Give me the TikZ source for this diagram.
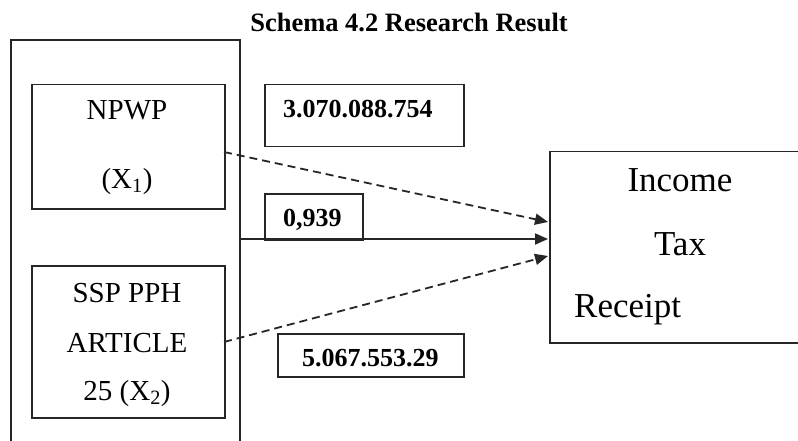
\documentclass[tikz,border=0pt]{standalone}
\usepackage{fontspec}
\setmainfont{Liberation Serif}
\usetikzlibrary{arrows.meta}
\begin{document}
\begin{tikzpicture}[x=1pt,y=-1pt,
  frame/.style={draw=black!85, line width=1.5pt, inner sep=0pt, anchor=north west},
  lbl/.style={anchor=base, inner sep=0pt, font=\fontsize{29}{32}\selectfont},
  big/.style={anchor=base, inner sep=0pt, font=\fontsize{35}{38}\selectfont},
  num/.style={anchor=base west, inner sep=0pt, font=\fontsize{26}{30}\selectfont\bfseries},
  link/.style={line width=1.8pt, draw=black!85, -{Triangle[length=13pt,width=11pt]}},
  dlink/.style={link, dash pattern=on 8pt off 5pt}]
\useasboundingbox (0,0) rectangle (798,441);

% title
\node[anchor=base, inner sep=0pt, font=\fontsize{26.5}{30}\selectfont\bfseries] (title) at (409,32) {Schema 4.2 Research Result};

% outer frame around the independent variables (open at the bottom)
\draw[draw=black!85, line width=1.5pt] (11,450) -- (11,40) -- (240,40) -- (240,450);
\coordinate (outerR) at (240,239);

% independent variables
\node[frame, minimum width=193, minimum height=124] (npwp) at (31,84) {};
\node[lbl] (npwpA) at (127,120) {NPWP};
\node[lbl] (npwpB) at (127,188) {(X\textsubscript{1})};

\node[frame, minimum width=193, minimum height=152] (ssp) at (31,265) {};
\node[lbl] (sspA) at (127,302) {SSP PPH};
\node[lbl] (sspB) at (127,352) {ARTICLE};
\node[lbl] (sspC) at (127,400) {25 (X\textsubscript{2})};

% dependent variable
\node[frame, minimum width=260, minimum height=191] (inc) at (549,151) {};
\node[big] (incA) at (680,191) {Income};
\node[big] (incB) at (680,255) {Tax};
\node[big, anchor=base west] (incC) at (574,317) {Receipt};

% coefficient boxes
\node[frame, minimum width=199, minimum height=62] (c1) at (264,84) {};
\node[num] (c1t) at (283,118) {3.070.088.754};
\node[frame, minimum width=98, minimum height=46] (c2) at (264,193) {};
\node[num] (c2t) at (283,226) {0,939};
\node[frame, minimum width=186, minimum height=43] (c3) at (277,333) {};
\node[num] (c3t) at (302,366) {5.067.553.29};

% connectors
\coordinate (s1) at (224,152);
\coordinate (s3) at (224,342);
\coordinate (t1) at (548,222);
\coordinate (t2) at (548,239);
\coordinate (t3) at (548,256);
\draw[dlink] (s1) -- (t1);
\draw[link] (outerR) -- (t2);
\draw[dlink] (s3) -- (t3);
\end{tikzpicture}
\end{document}
